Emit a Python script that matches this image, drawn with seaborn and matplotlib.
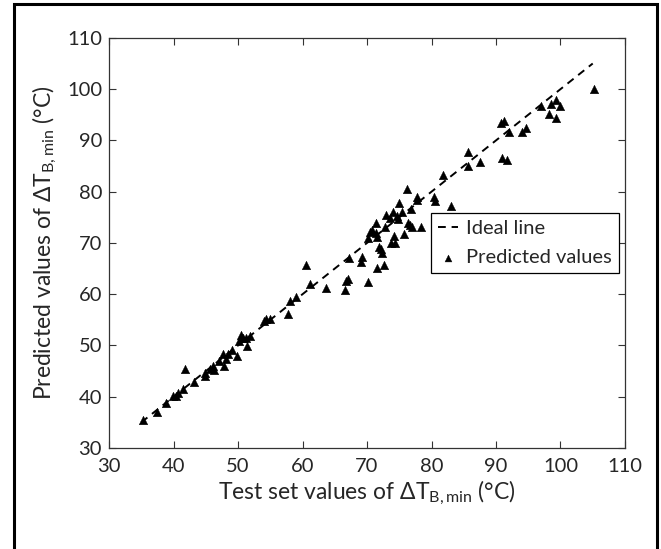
import numpy as np
import pandas as pd
import seaborn as sns
import matplotlib.pyplot as plt
from matplotlib.patches import Rectangle

# test set values vs predicted values
test_vals = [35.2, 37.5, 38.9, 39.9, 40.4, 40.7, 41.4, 41.7, 43.1, 44.8,
             44.9, 45.6, 46.1, 46.3, 47.0, 47.7, 47.8, 48.1, 48.4, 49.0,
             49.9, 50.1, 50.5, 50.8, 51.3, 51.4, 51.8, 54.1, 54.4, 55.0,
             57.8, 58.1, 59.0, 60.6, 61.1, 63.7, 66.6, 66.8, 67.1, 67.2,
             69.0, 69.2, 70.1, 70.1, 70.5, 70.8, 71.4, 71.4, 71.6, 71.6,
             71.8, 72.1, 72.3, 72.7, 72.8, 73.0, 73.6, 73.7, 74.0, 74.2,
             74.4, 74.6, 74.8, 74.9, 75.4, 75.7, 76.2, 76.3, 76.7, 76.8,
             76.9, 77.8, 77.8, 78.3, 80.4, 80.5, 81.8, 83.0, 85.6, 85.7,
             87.5, 91.0, 90.8, 91.3, 91.7, 92.0, 94.1, 94.6, 97.0, 98.2,
             98.6, 99.3, 99.3, 99.9, 105.2]
pred_vals = [35.4, 37.1, 38.8, 40.1, 40.1, 40.7, 41.6, 45.5, 42.8, 44.1,
             44.6, 45.5, 45.9, 45.2, 46.9, 48.4, 46.0, 47.3, 48.4, 49.2,
             47.9, 50.8, 52.0, 51.5, 51.5, 49.9, 51.8, 54.7, 55.1, 55.1,
             56.2, 58.6, 59.4, 65.6, 62.0, 61.3, 60.9, 62.6, 63.0, 67.1,
             66.2, 67.3, 62.3, 70.9, 72.2, 72.5, 73.9, 71.9, 71.1, 65.1,
             69.2, 68.8, 68.0, 65.6, 73.2, 75.5, 74.9, 69.9, 76.1, 71.4,
             69.9, 75.2, 74.7, 77.7, 76.1, 71.7, 80.5, 73.8, 73.5, 76.7,
             73.2, 79.0, 78.3, 73.2, 78.9, 78.1, 83.2, 77.2, 85.1, 87.8,
             85.8, 86.6, 93.3, 93.7, 86.1, 91.7, 91.6, 92.5, 96.8, 95.1,
             97.1, 97.8, 94.4, 96.8, 100.0]
ideal_x = [35, 105]
ideal_y = [35, 105]

sns.set_style("ticks")
plt.rcParams['font.family'] = ['Lato', 'DejaVu Sans']
plt.rcParams['mathtext.fontset'] = 'custom'
plt.rcParams['mathtext.rm'] = 'Lato'
plt.rcParams['mathtext.it'] = 'Lato'

fig = plt.figure(figsize=(6.61, 5.49), dpi=100)
ax = fig.add_axes([0.165, 0.184, 0.7805, 0.747])

df = pd.DataFrame({'test': test_vals, 'pred': pred_vals})
line_df = pd.DataFrame({'x': ideal_x, 'y': ideal_y})

sns.lineplot(data=line_df, x='x', y='y', ax=ax, color='black',
             linestyle=(0, (4, 3)), linewidth=1.4, label='Ideal line')
sns.scatterplot(data=df, x='test', y='pred', ax=ax, marker='^', color='black',
                s=38, edgecolor='black', linewidth=0.3, label='Predicted values')

ax.set_xlim(30, 110)
ax.set_ylim(30, 110)
ax.set_xticks(range(30, 111, 10))
ax.set_yticks(range(30, 111, 10))
ax.tick_params(direction='in', length=5, width=0.8, top=True, right=True,
               labelsize=14.5, colors='#333333', labelcolor='#262626')
ax.tick_params(axis='x', pad=7)
ax.tick_params(axis='y', pad=5)
for sp in ax.spines.values():
    sp.set_visible(True)
    sp.set_color('#333333')
    sp.set_linewidth(0.9)

ax.set_xlabel(r'Test set values of $\Delta$T$_{\mathrm{B,min}}$ (°C)', fontsize=16.5,
              color='#262626', labelpad=3)
ax.set_ylabel(r'Predicted values of $\Delta$T$_{\mathrm{B,min}}$ (°C)', fontsize=16.5,
              color='#262626', labelpad=6)

leg = ax.legend(loc='center right', fontsize=14.5, frameon=True, fancybox=False,
                edgecolor='black', framealpha=1, borderaxespad=0.3,
                handlelength=1.0, handletextpad=0.4, borderpad=0.35,
                labelspacing=0.6, markerscale=0.8)
leg.get_frame().set_linewidth(0.9)

# outer frame around the figure
fig.patches.append(Rectangle((14 / 661, -0.05), (657 - 14) / 661, 1.05 - 4 / 549,
                             transform=fig.transFigure, fill=False,
                             edgecolor='black', linewidth=2.2))

fig.savefig('out.png', dpi=100)
